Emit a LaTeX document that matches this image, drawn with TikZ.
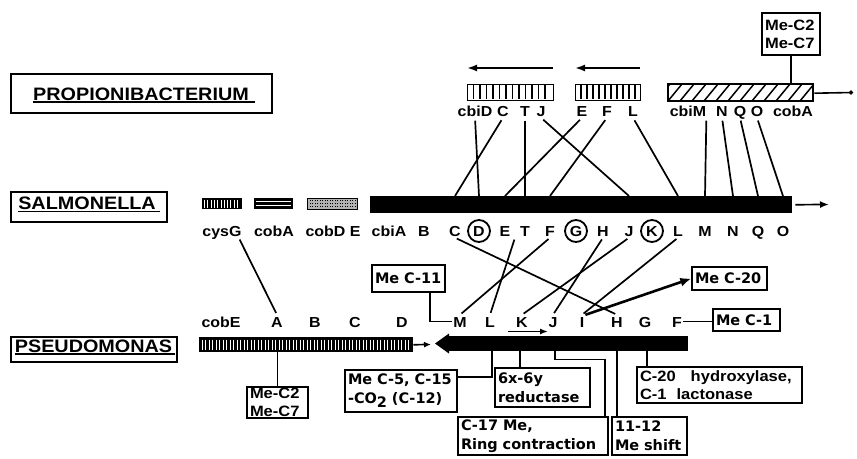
\documentclass[tikz,border=0pt]{standalone}
\usepackage{fontspec}
\setmainfont[FakeStretch=1.1]{Liberation Sans}
\newfontfamily\chic{DejaVu Sans}
\usetikzlibrary{arrows.meta,calc}
\begin{document}
\begin{tikzpicture}[x=1pt,y=-1pt,
  gene/.style={font=\bfseries\fontsize{14.5}{15}\selectfont, inner sep=1pt, text height=11pt, text depth=0pt, anchor=base},
  conn/.style={line width=1.7pt},
  titlebox/.style={draw, line width=1.6pt, inner sep=0pt},
  titletext/.style={font=\bfseries\fontsize{18}{18}\selectfont, inner sep=0pt, anchor=base},
  uline/.style={line width=1.4pt},
  cbox/.style={draw, line width=1.4pt, inner xsep=3pt, inner ysep=1pt, align=left, font=\chic\bfseries\fontsize{14.5}{19}\selectfont},
  abox/.style={draw, line width=1.4pt, inner xsep=3pt, inner ysep=1pt, align=left, font=\bfseries\fontsize{15}{18}\selectfont},
  ring/.style={draw, circle, line width=1.8pt, minimum size=22pt, inner sep=0pt},
  dirarrow/.style={line width=1.8pt, -{Latex[length=10pt,width=7pt]}},
  barnode/.style={inner sep=0pt, anchor=north west},
]
\useasboundingbox (0,0) rectangle (857,458);

% ---------------- titles
\node[titlebox, minimum width=261pt, minimum height=39pt] (propbox) at (141.5,93.5) {};
\node[titletext] (proptxt) at (141,100) {PROPIONIBACTERIUM};
\draw[uline] ([yshift=-1.8pt]proptxt.base west) -- ([yshift=-1.8pt,xshift=6pt]proptxt.base east);
\node[titlebox, minimum width=156pt, minimum height=30pt] (salbox) at (89,207) {};
\node[titletext] (saltxt) at (87,209.5) {SALMONELLA};
\draw[uline] ([yshift=-1.8pt]saltxt.base west) -- ([yshift=-1.8pt,xshift=4pt]saltxt.base east);
\node[titlebox, minimum width=166pt, minimum height=25pt] (psbox) at (94,349.5) {};
\node[titletext] (pstxt) at (93.5,352) {PSEUDOMONAS};
\draw[uline] ([yshift=-1.8pt]pstxt.base west) -- ([yshift=-1.8pt,xshift=3pt]pstxt.base east);

% ---------------- Propionibacterium blocks
\node[barnode, draw, line width=1.4pt, fill=white, minimum width=86pt, minimum height=16pt] (pb1) at (467,84) {};
\foreach \x in {473.5,480,...,548} \draw[line width=1.8pt] (\x,85) -- (\x,99);
\node[barnode, draw, line width=1.4pt, fill=white, minimum width=65pt, minimum height=16pt] (pb2) at (575,84) {};
\foreach \x in {581,587,...,635} \draw[line width=1.8pt] (\x,85) -- (\x,99);
\node[barnode, draw, line width=1.4pt, fill=white, minimum width=145pt, minimum height=17pt] (phatch) at (668,84) {};
\begin{scope}
  \clip (668,84) rectangle (813,101);
  \foreach \x in {656,668,...,830} \draw[line width=1.5pt] (\x,101) -- (\x+14,84);
\end{scope}
\draw[line width=1.4pt] (668,84) rectangle (813,101);

\coordinate (a1s) at (553,68); \coordinate (a1e) at (467,68);
\coordinate (a2s) at (640,68); \coordinate (a2e) at (575,68);
\draw[dirarrow] (a1s) -- (a1e);
\draw[dirarrow] (a2s) -- (a2e);

\coordinate (pend) at (853,92.5);
\draw[line width=1.6pt, -{Circle[length=4pt]}] (phatch.east) -- (pend);

\node[abox, text width=52pt, minimum height=42pt] (mctop) at (791,34) {Me-C2\\Me-C7};
\draw[conn] (mctop.south) -- (mctop.south |- phatch.north);

% Propionibacterium labels
\node[gene] (pcbiD) at (475,116.5) {cbiD};
\node[gene] (pC) at (503,116.5) {C};
\node[gene] (pT) at (525,116.5) {T};
\node[gene] (pJ) at (541,116.5) {J};
\node[gene] (pE) at (582,116.5) {E};
\node[gene] (pF) at (607,116.5) {F};
\node[gene] (pL) at (633,116.5) {L};
\node[gene] (pcbiM) at (688,116.5) {cbiM};
\node[gene] (pN) at (722,116.5) {N};
\node[gene] (pQ) at (740,116.5) {Q};
\node[gene] (pO) at (757,116.5) {O};
\node[gene] (pcobA) at (793,116.5) {cobA};

% ---------------- Salmonella
\node[barnode, fill=black, minimum width=40pt, minimum height=11pt] (bcys) at (202,198) {};
\foreach \x in {204.5,207.8,...,240} \draw[white, line width=0.9pt] (\x,199.5) -- (\x,207.5);
\node[barnode, fill=black, minimum width=39pt, minimum height=11pt] (bcoba) at (254,198) {};
\draw[white, line width=1.1pt] (256,201.8) -- (291,201.8);
\draw[white, line width=1.1pt] (256,205.4) -- (291,205.4);
\node[barnode, draw, line width=1.2pt, fill=black!30, minimum width=50pt, minimum height=11pt] (bcobd) at (307,198) {};
\foreach \x in {309.5,312,...,355} \foreach \y in {199.6,202.6,205.6} \fill (\x,\y) rectangle ++(1.4,1.6);
\node[barnode, fill=black, minimum width=422pt, minimum height=17pt] (sbar) at (370,196) {};
\coordinate (sa) at (829,204.5);
\draw[line width=1.7pt, -{Latex[length=9pt,width=7pt]}] ([xshift=3pt]sbar.east) -- (sa);

\node[gene] (scysG) at (222,236.5) {cysG};
\node[gene] (scobA) at (274,236.5) {cobA};
\node[gene] (scobDE) at (333,236.5) {cobD E};
\node[gene] (scbiA) at (389,236.5) {cbiA};
\node[gene] (sB) at (424,236.5) {B};
\node[gene] (sC) at (455,236.5) {C};
\node[gene] (sD) at (479,236.5) {D};
\node[gene] (sE) at (505,236.5) {E};
\node[gene] (sT) at (525,236.5) {T};
\node[gene] (sF) at (550,236.5) {F};
\node[gene] (sG) at (576,236.5) {G};
\node[gene] (sH) at (603,236.5) {H};
\node[gene] (sJ) at (629,236.5) {J};
\node[gene] (sK) at (652,236.5) {K};
\node[gene] (sL) at (678,236.5) {L};
\node[gene] (sM) at (705,236.5) {M};
\node[gene] (sN) at (733,236.5) {N};
\node[gene] (sQ) at (758,236.5) {Q};
\node[gene] (sO) at (783,236.5) {O};
\node[ring] (rD) at (sD.center) {};
\node[ring] (rG) at (sG.center) {};
\node[ring] (rK) at (sK.center) {};

% Propionibacterium -> Salmonella
\foreach \a/\b in {cbiD/D, C/C, T/T, J/J, E/E, F/F, L/L, N/N, Q/Q, O/O}
  \draw[conn, shorten <=3pt] (p\a.south) -- (s\b |- sbar.north);
\draw[conn, shorten <=3pt] ([xshift=-1pt]pcbiM.south east) -- (sM |- sbar.north);

% ---------------- Pseudomonas
\node[barnode, fill=black, minimum width=214pt, minimum height=15pt] (pbar) at (199,337) {};
\foreach \x in {202,205.5,...,410} \draw[white, line width=0.8pt] (\x,339.5) -- (\x,349.5);
\coordinate (pa) at (431,344.5);
\draw[line width=1.7pt, -{Latex[length=7pt,width=6pt]}] (pbar.east) -- (pa);
\node[barnode, fill=black, minimum width=241pt, minimum height=15pt] (bbar) at (447,336) {};
\fill (435,343.5) -- (449,333.5) -- (449,353.5) -- cycle;

\node[gene] (qcobE) at (221,327) {cobE};
\node[gene] (qA) at (277,327) {A};
\node[gene] (qB) at (315,327) {B};
\node[gene] (qC) at (355,327) {C};
\node[gene] (qD) at (402,327) {D};
\node[gene] (qM) at (460,327) {M};
\node[gene] (qL) at (490,327) {L};
\node[gene] (qK) at (522,327) {K};
\node[gene] (qJ) at (553,327) {J};
\node[gene] (qI) at (582,327) {I};
\node[gene] (qH) at (617,327) {H};
\node[gene] (qG) at (645,327) {G};
\node[gene] (qF) at (677,327) {F};

\coordinate (ka1) at (508,331.5); \coordinate (ka2) at (548,331.5);
\draw[line width=1.5pt, -{Latex[length=8pt,width=6pt]}] (ka1) -- (ka2);

% Salmonella -> Pseudomonas
\draw[conn, shorten <=2pt, shorten >=2pt] ([xshift=-4pt]scysG.south east) -- (qA.north);
\draw[conn, shorten <=2pt, shorten >=2pt] (sC.south) -- (qH.north);
\draw[conn, shorten <=2pt, shorten >=2pt] ($(sE.south)!0.5!(sT.south)$) -- (qL.north);
\draw[conn, shorten <=2pt, shorten >=2pt] (sF.south) -- (qM.north);
\draw[conn, shorten <=2pt, shorten >=2pt] (sH.south) -- (qJ.north);
\draw[conn, shorten <=2pt, shorten >=2pt] (sJ.south) -- (qK.north);
\draw[conn, shorten <=2pt, shorten >=2pt] (sL.south) -- (qI.north);

% ---------------- annotation boxes
\node[cbox, text width=67pt, minimum height=27pt] (mc11) at (408.5,278.5) {Me C-11};
\draw[conn] ([xshift=21.5pt]mc11.south) |- (qM.west);
\node[cbox, text width=69pt, minimum height=23pt] (mc20) at (729.5,278.5) {Me C-20};
\draw[line width=2.6pt, -{Latex[length=11pt,width=9pt]}] (qI.north east) -- (mc20.west);
\node[cbox, text width=61pt, minimum height=22pt] (mc1) at (746.5,320) {Me C-1};
\draw[conn] (qF.east) -- (qF.east -| mc1.west);

\node[abox, text width=55pt, minimum height=31pt] (mcbot) at (277.5,402.5) {Me-C2\\Me-C7};
\draw[conn] (mcbot.north |- pbar.south) -- (mcbot.north);

\node[cbox, text width=106pt, minimum height=42pt] (mc5) at (401,391) {Me C-5, C-15\\-CO\raisebox{-4pt}{2} (C-12)};
\node[cbox, text width=89pt, minimum height=39pt] (red) at (542.5,387.5) {6x-6y\\reductase};
\node[cbox, text width=144pt, minimum height=38pt] (c17) at (533,436) {C-17 Me,\\Ring contraction};
\node[cbox, text width=69pt, minimum height=38pt] (ms) at (649.5,436) {11-12\\Me shift};
\node[abox, text width=159pt, minimum height=36pt] (hyd) at (719.5,385) {C-20\ \ \ hydroxylase,\\C-1\ \ lactonase};

\coordinate (b492) at ($(bbar.south west)+(45,0)$);
\coordinate (b520) at ($(bbar.south west)+(73,0)$);
\coordinate (b555) at ($(bbar.south west)+(108,0)$);
\coordinate (b617) at ($(bbar.south west)+(170,0)$);
\coordinate (b647) at ($(bbar.south west)+(200,0)$);
\draw[conn] ([yshift=14pt]mc5.east) -| (b492);
\draw[conn] (b520) -- (b520 |- red.north);
\draw[conn] (b555) -- ++(0,8) -| ([xshift=-4pt]c17.north east);
\draw[conn] (b617) -- (b617 |- ms.north);
\draw[conn] (b647) -- (b647 |- hyd.north);
\end{tikzpicture}
\end{document}
